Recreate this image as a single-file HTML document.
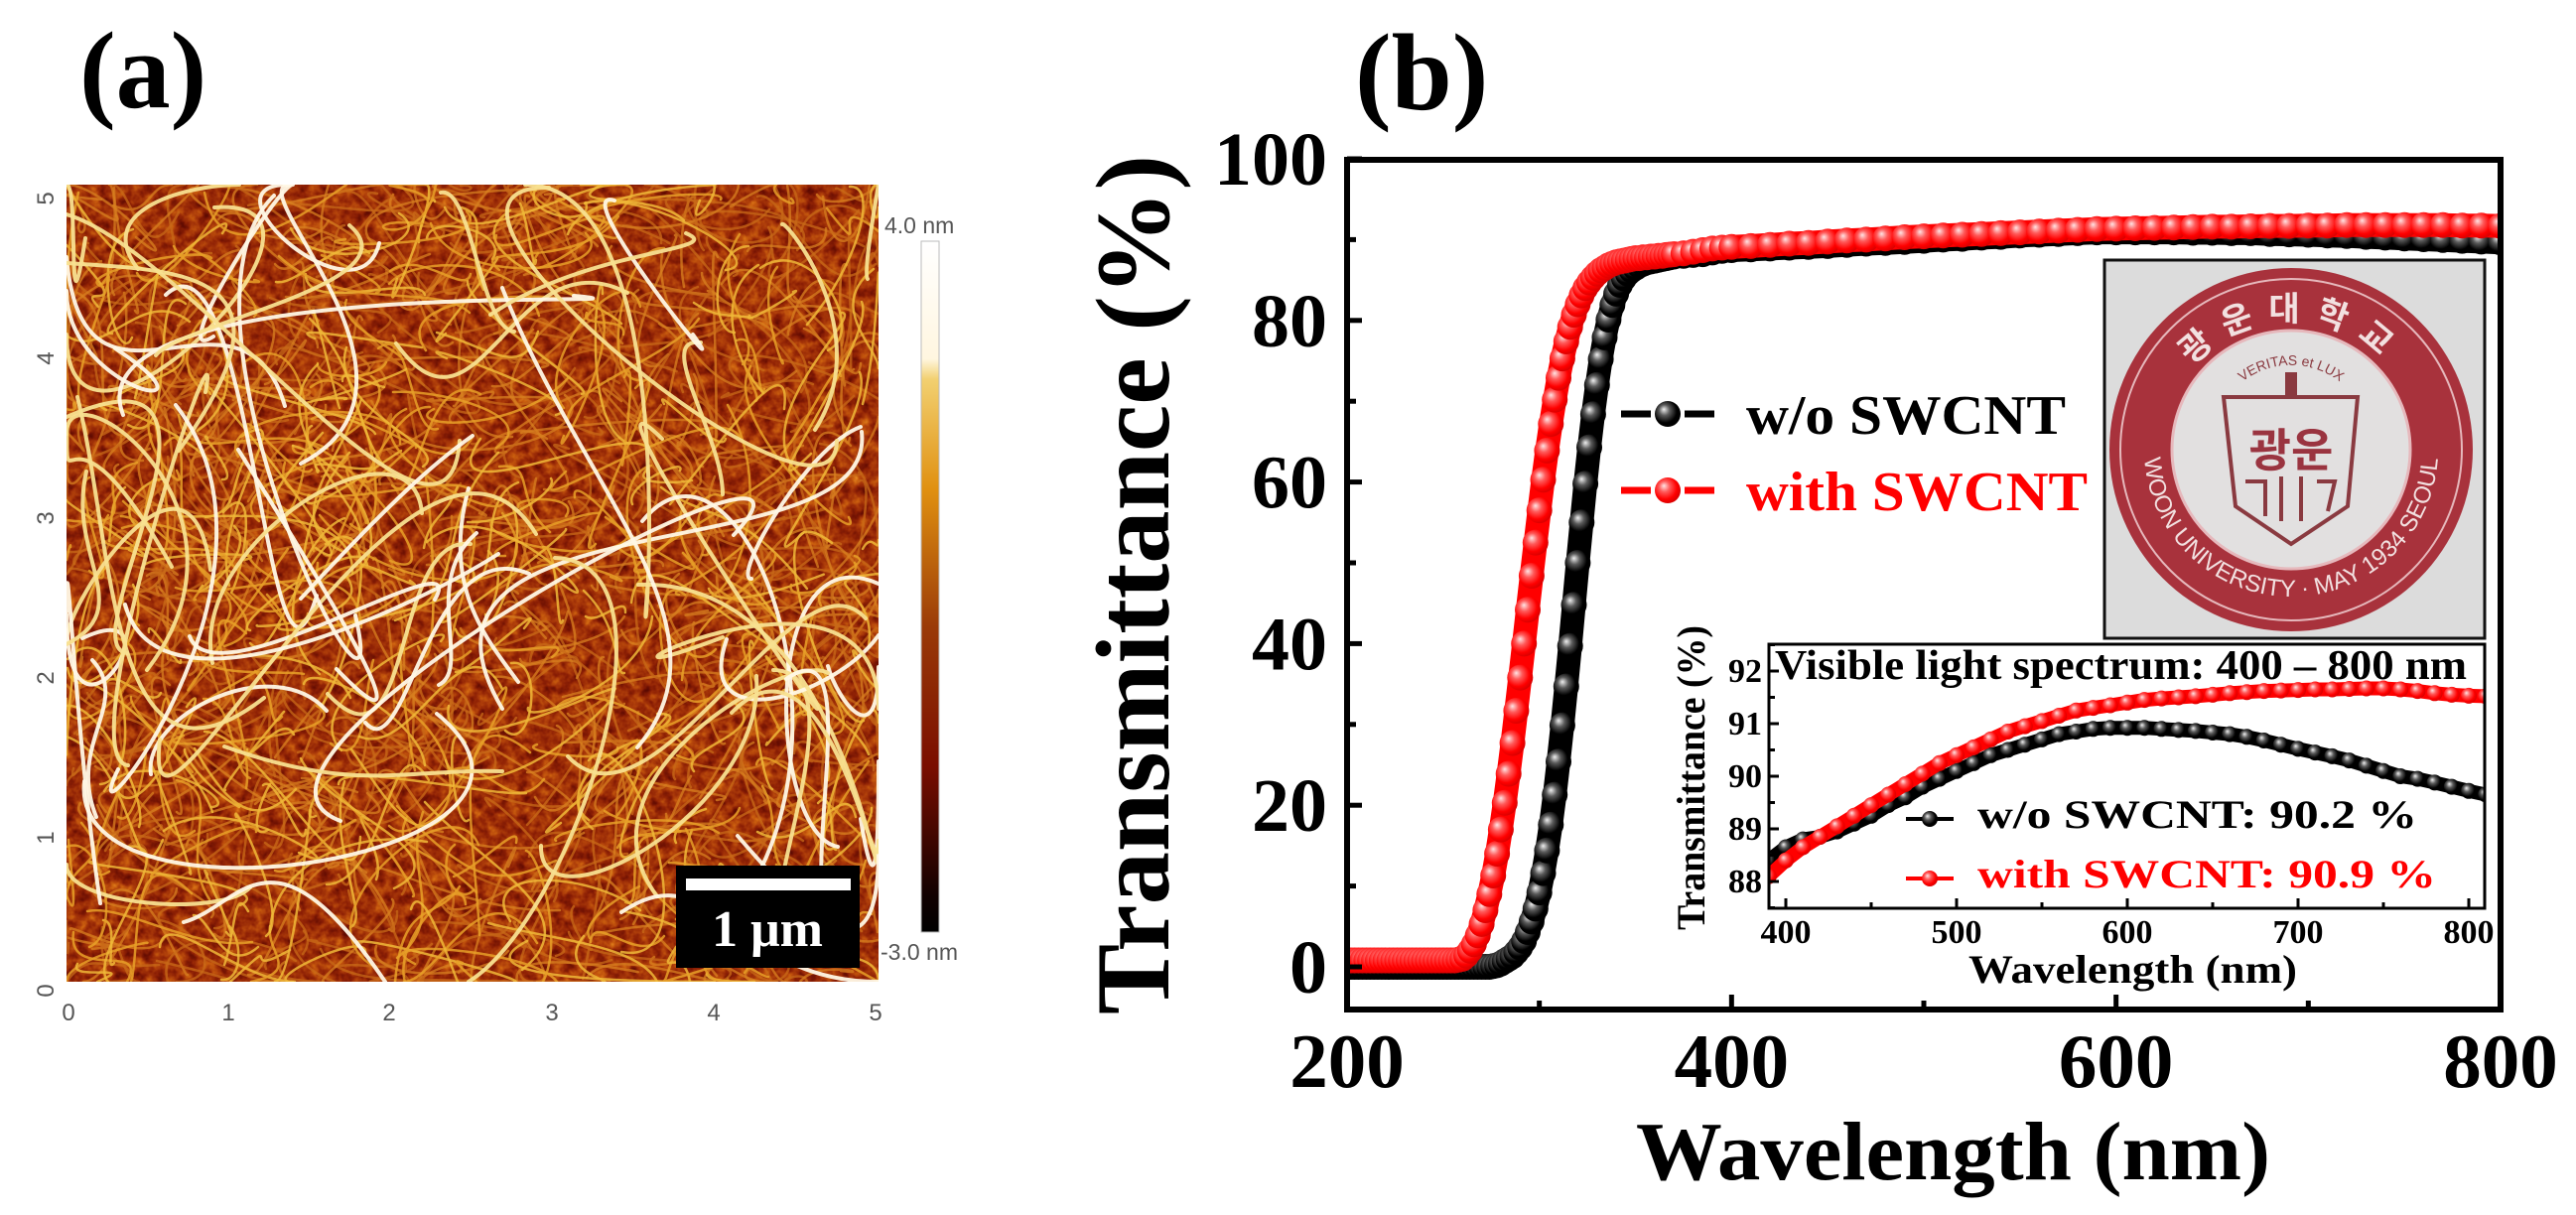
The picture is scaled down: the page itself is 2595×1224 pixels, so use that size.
<!DOCTYPE html>
<html><head><meta charset="utf-8">
<style>
html,body{margin:0;padding:0;background:#fff;width:2595px;height:1224px;overflow:hidden;}
svg{display:block;}
.tm{font-family:"Liberation Serif",serif;font-weight:bold;}
.sn{font-family:"Liberation Sans",sans-serif;}
</style></head>
<body>
<svg id="fig" width="2595" height="1224" viewBox="0 0 2595 1224" xmlns="http://www.w3.org/2000/svg" overflow="hidden">
<defs>
  <radialGradient id="gb" cx="0.42" cy="0.42" r="0.6" fx="0.35" fy="0.32">
    <stop offset="0" stop-color="#f0f0f0"/><stop offset="0.35" stop-color="#5a5a5a"/><stop offset="0.75" stop-color="#000"/><stop offset="1" stop-color="#000"/>
  </radialGradient>
  <radialGradient id="gr" cx="0.42" cy="0.42" r="0.6" fx="0.35" fy="0.32">
    <stop offset="0" stop-color="#ffe4e4"/><stop offset="0.35" stop-color="#ff5a5a"/><stop offset="0.75" stop-color="#f00"/><stop offset="1" stop-color="#d80000"/>
  </radialGradient>
  <linearGradient id="cbar" x1="0" y1="0" x2="0" y2="1">
    <stop offset="0" stop-color="#ffffff"/><stop offset="0.17" stop-color="#fff6e0"/><stop offset="0.2" stop-color="#f2d070"/>
    <stop offset="0.36" stop-color="#e09010"/><stop offset="0.56" stop-color="#9a3a08"/><stop offset="0.76" stop-color="#7a0e00"/>
    <stop offset="0.95" stop-color="#100000"/><stop offset="1" stop-color="#000"/>
  </linearGradient>
  <filter id="noise" x="0" y="0" width="100%" height="100%" color-interpolation-filters="sRGB">
    <feTurbulence type="fractalNoise" baseFrequency="0.09" numOctaves="3" seed="7"/>
    <feColorMatrix type="matrix" values="1 0 0 0 0  1 0 0 0 0  1 0 0 0 0  0 0 0 0 1"/>
    <feComponentTransfer>
      <feFuncR type="table" tableValues="0.3 0.42 0.56 0.68 0.8 0.9"/>
      <feFuncG type="table" tableValues="0.02 0.06 0.13 0.24 0.38 0.55"/>
      <feFuncB type="table" tableValues="0 0.01 0.02 0.04 0.06 0.15"/>
    </feComponentTransfer>
  </filter>
  <clipPath id="afmclip"><rect x="67" y="186" width="818" height="803"/></clipPath>
  <clipPath id="mainclip"><rect x="1357" y="161" width="1162" height="856"/></clipPath>
  <clipPath id="insclip"><rect x="1782" y="649" width="721" height="266"/></clipPath>
  <path id="ringTop" d="M 2178 453 A 130 130 0 0 1 2438 453"/>
  <path id="ringBot" d="M 2160 453 A 148 148 0 0 0 2456 453"/>
  <path id="motto" d="M 2230 430 A 80 80 0 0 1 2386 430"/>
</defs>

<!-- Panel (a) -->
<text class="tm" x="80" y="108" font-size="110">(a)</text>
<g clip-path="url(#afmclip)">
  <rect x="67" y="186" width="818" height="803" fill="#8a2a08"/>
  <rect x="67" y="186" width="818" height="803" filter="url(#noise)"/>
  <g id="fibers"></g>
</g>
<g class="sn" font-size="24" fill="#555" text-anchor="middle">
  <text x="69" y="1028">0</text><text x="230" y="1028">1</text><text x="392" y="1028">2</text>
  <text x="556" y="1028">3</text><text x="719" y="1028">4</text><text x="882" y="1028">5</text>
</g>
<g class="sn" font-size="24" fill="#555" text-anchor="middle">
  <text transform="translate(54,998) rotate(-90)">0</text><text transform="translate(54,844) rotate(-90)">1</text>
  <text transform="translate(54,683) rotate(-90)">2</text><text transform="translate(54,522) rotate(-90)">3</text>
  <text transform="translate(54,361) rotate(-90)">4</text><text transform="translate(54,200) rotate(-90)">5</text>
</g>
<rect x="928" y="243" width="18" height="696" fill="url(#cbar)" stroke="#bbb" stroke-width="1"/>
<text class="sn" x="891" y="235" font-size="23" fill="#555">4.0 nm</text>
<text class="sn" x="887" y="967" font-size="23" fill="#555">-3.0 nm</text>
<g>
  <rect x="681" y="872" width="185" height="103" fill="#000"/>
  <rect x="691" y="885" width="166" height="12" fill="#fff"/>
  <text class="tm" x="773" y="953" font-size="52" fill="#fff" text-anchor="middle">1 μm</text>
</g>

<!-- Panel (b) -->
<text class="tm" x="1365" y="110" font-size="110">(b)</text>
<g id="mainmarks" clip-path="url(#mainclip)"></g>
<rect x="1357" y="161" width="1162" height="856" fill="none" stroke="#000" stroke-width="6"/>
<g id="mainaxes"></g>
<text class="tm" transform="translate(1177,1022) rotate(-90)" font-size="106" textLength="866" lengthAdjust="spacingAndGlyphs">Transmittance (%)</text>
<text class="tm" x="1648" y="1188" font-size="84" textLength="639" lengthAdjust="spacingAndGlyphs">Wavelength (nm)</text>

<g>
  <g>
    <line x1="1633" y1="417" x2="1727" y2="417" stroke="#000" stroke-width="7" stroke-dasharray="30 10 0 24 30"/>
    <circle cx="1680" cy="417" r="13" fill="url(#gb)"/>
    <text class="tm" x="1759" y="437" font-size="56" textLength="322" lengthAdjust="spacingAndGlyphs">w/o SWCNT</text>
  </g>
  <g>
    <line x1="1633" y1="494" x2="1727" y2="494" stroke="#f00" stroke-width="7" stroke-dasharray="30 10 0 24 30"/>
    <circle cx="1680" cy="494" r="13" fill="url(#gr)"/>
    <text class="tm" x="1759" y="514" font-size="56" fill="#f00" textLength="344" lengthAdjust="spacingAndGlyphs">with SWCNT</text>
  </g>
</g>

<!-- University logo photo -->
<g>
  <rect x="2120" y="262" width="383" height="381" fill="#dcdcdc" stroke="#111" stroke-width="3"/>
  <circle cx="2308" cy="453" r="183" fill="#a8323c"/>
  <circle cx="2308" cy="453" r="172" fill="none" stroke="#e6b8bc" stroke-width="2"/>
  <circle cx="2308" cy="453" r="120" fill="#e2e0e0" stroke="#e6b8bc" stroke-width="3"/>
  <text font-family="'Noto Sans CJK KR',sans-serif" font-size="34" font-weight="bold" fill="#f2e0e0" letter-spacing="14"><textPath href="#ringTop" startOffset="50%" text-anchor="middle">광운대학교</textPath></text>
  <text class="sn" font-size="24" fill="#f2e0e0"><textPath href="#ringBot" startOffset="50%" text-anchor="middle">KWANGWOON UNIVERSITY · MAY 1934 SEOUL KOREA</textPath></text>
  <text class="sn" font-size="14" fill="#8a3a40"><textPath href="#motto" startOffset="50%" text-anchor="middle">VERITAS et LUX</textPath></text>
  <path d="M2240 400 L2375 400 L2365 510 L2308 548 L2252 510 Z" fill="none" stroke="#8a3a40" stroke-width="4"/>
  <rect x="2302" y="375" width="12" height="25" fill="#8a3a40"/>
  <text x="2308" y="470" font-family="'Noto Sans CJK KR',sans-serif" font-size="46" font-weight="bold" fill="#9a3440" text-anchor="middle">광운</text>
  <path d="M2262 485 L2282 485 L2282 520 M2298 480 L2298 525 M2318 480 L2318 525 M2334 485 L2352 485 L2345 515" fill="none" stroke="#8a3a40" stroke-width="4"/>
</g>

<!-- Inset -->
<rect x="1782" y="649" width="721" height="266" fill="#fff"/>
<g id="insetmarks" clip-path="url(#insclip)"></g>
<rect x="1782" y="649" width="721" height="266" fill="none" stroke="#000" stroke-width="3"/>
<g id="insetaxes"></g>
<text class="tm" x="1788" y="684" font-size="42" textLength="697" lengthAdjust="spacingAndGlyphs">Visible light spectrum: 400 – 800 nm</text>
<text class="tm" transform="translate(1717,937) rotate(-90)" font-size="40" textLength="307" lengthAdjust="spacingAndGlyphs">Transmittance (%)</text>
<text class="tm" x="1983" y="990" font-size="40" textLength="331" lengthAdjust="spacingAndGlyphs">Wavelength (nm)</text>
<g>
  <g>
    <line x1="1920" y1="825" x2="1968" y2="825" stroke="#000" stroke-width="4"/>
    <circle cx="1944" cy="825" r="8" fill="url(#gb)"/>
    <text class="tm" x="1992" y="834" font-size="40" textLength="443" lengthAdjust="spacingAndGlyphs">w/o SWCNT: 90.2 %</text>
  </g>
  <g>
    <line x1="1920" y1="885" x2="1968" y2="885" stroke="#f00" stroke-width="4"/>
    <circle cx="1944" cy="885" r="8" fill="url(#gr)"/>
    <text class="tm" x="1992" y="894" font-size="40" fill="#f00" textLength="462" lengthAdjust="spacingAndGlyphs">with SWCNT: 90.9 %</text>
  </g>
</g>
</svg>

<script>
// ---------- main chart data ----------
const mainWl = [200,202,204,206,208,210,212,214,216,218,220,222,224,226,228,230,232,234,236,238,240,242,244,246,248,250,252,254,256,258,
260,262,264,266,268,270,272,274,276,278,280,282,284,286,288,290,292,294,296,298,300,302,304,306,308,310,312,314,316,318,
320,322,324,326,328,330,332,334,336,338,340,342,344,346,348,350,352,354,356,358,360,362,364,366,368,370,
375,380,385,390,395,400,410,420,430,440,450,460,470,480,490,500,510,520,530,540,550,560,570,580,590,600,
610,620,630,640,650,660,670,680,690,700,710,720,730,740,750,760,770,780,790,800];
const mainBlack = [0.0,0.0,0.0,0.0,0.0,0.0,0.0,0.0,0.0,0.0,0.0,0.0,0.0,0.0,0.0,0.0,0.0,0.0,0.0,0.0,0.0,0.0,0.0,0.0,0.0,0.0,0.0,0.0,0.0,0.0,
0.0,0.0,0.0,0.0,0.0,0.0,0.0,0.0,0.1,0.2,0.4,0.7,1.0,1.3,1.8,2.4,3.2,4.3,5.6,7.2,9.2,11.6,14.4,17.6,21.3,25.4,29.9,34.7,39.7,
44.8,50.0,55.0,59.8,64.3,68.4,72.0,75.2,77.9,80.1,81.9,83.3,84.4,85.2,85.8,86.2,86.5,86.8,87.0,87.2,87.3,87.4,87.5,87.6,87.7,87.8,87.9,88.0,
88.1,88.2,88.4,88.6,88.7,88.8,88.9,89.0,89.1,89.2,89.35,89.5,89.6,89.7,89.85,90.0,90.1,90.25,90.35,90.5,90.6,90.7,90.8,90.9,90.9,90.9,
90.9,90.9,90.85,90.85,90.8,90.8,90.7,90.65,90.6,90.5,90.45,90.35,90.25,90.15,90.05,89.95,89.85,89.75,89.65,89.55];
const mainRed = [0.8,0.8,0.8,0.8,0.8,0.8,0.8,0.8,0.8,0.8,0.8,0.8,0.8,0.8,0.8,0.8,0.8,0.8,0.8,0.8,0.8,0.8,0.8,0.8,0.8,0.8,0.8,0.8,
0.8,0.9,1.0,1.4,2.0,2.8,3.9,5.3,7.0,9.0,11.3,14.0,17.0,20.3,23.9,27.7,31.7,35.8,40.0,44.2,48.4,52.5,56.5,60.3,63.9,67.2,70.2,72.9,75.3,77.4,
79.2,80.7,82.0,83.1,84.0,84.7,85.3,85.8,86.2,86.5,86.8,87.0,87.2,87.3,87.4,87.5,87.6,87.7,87.7,87.8,87.8,87.9,87.9,88.0,88.0,88.1,88.15,88.2,
88.3,88.5,88.7,88.9,89.0,89.1,89.2,89.35,89.5,89.6,89.75,89.9,90.0,90.15,90.3,90.4,90.5,90.6,90.7,90.8,90.9,91.0,91.1,91.2,91.3,91.35,
91.4,91.45,91.5,91.55,91.6,91.6,91.65,91.7,91.7,91.75,91.75,91.8,91.8,91.8,91.8,91.8,91.8,91.75,91.75,91.7];
const mainXTicks = [200,400,600,800];
const mainXMinor = [300,500,700];
const mainYTicks = [0,20,40,60,80,100];
const mainYMinor = [10,30,50,70,90];

// ---------- inset data ----------
const insWl = [390,400,410,420,430,440,450,460,470,480,490,500,510,520,530,540,550,560,570,580,590,600,610,620,630,640,650,660,670,680,690,700,710,720,730,740,750,760,770,780,790,800,810];
const insBlack = [88.4,88.65,88.8,88.85,88.95,89.1,89.25,89.45,89.6,89.8,89.95,90.1,90.25,90.4,90.5,90.6,90.7,90.8,90.85,90.9,90.92,90.92,90.92,90.9,90.88,90.86,90.83,90.8,90.75,90.68,90.6,90.52,90.45,90.38,90.3,90.2,90.1,90.0,89.95,89.88,89.8,89.72,89.65];
const insRed = [88.1,88.4,88.65,88.85,89.05,89.25,89.45,89.65,89.85,90.05,90.25,90.4,90.55,90.7,90.85,90.95,91.05,91.15,91.25,91.3,91.35,91.4,91.45,91.48,91.5,91.52,91.55,91.58,91.6,91.62,91.63,91.64,91.65,91.65,91.66,91.67,91.67,91.65,91.62,91.58,91.55,91.53,91.52];
const insXTicks = [400,500,600,700,800];
const insXMinor = [450,550,650,750];
const insYTicks = [88,89,90,91,92];
const insYMinor = [87.5,88.5,89.5,90.5,91.5,92.5];

const NS = 'http://www.w3.org/2000/svg';
function mk(tag, attrs, parent){ const e=document.createElementNS(NS,tag); for(const k in attrs) e.setAttribute(k,attrs[k]); parent.appendChild(e); return e; }

const X = w => 1357 + (w-200)*1162/600;
const Y = v => 974 - v*8.14;
const XI = w => 1799 + (w-400)*1.72;
const YI = v => 676 - (v-92)*53;

const mm = document.getElementById('mainmarks');
function series(parent, wl, vals, fx, fy, color, grad, r, name){
  const g = mk('g', {}, parent);
  
  
  const n = Math.min(wl.length, vals.length);
  let d = '';
  for(let i=0;i<n;i++) d += (i?'L':'M') + fx(wl[i]).toFixed(1) + ' ' + fy(vals[i]).toFixed(1);
  const p = mk('path', {d:d, fill:'none', stroke:color, 'stroke-width':r*2-2, 'stroke-linejoin':'round', 'stroke-linecap':'round'}, g);
  
  
  for(let i=0;i<n;i++){
    const c = mk('circle', {cx:fx(wl[i]).toFixed(1), cy:fy(vals[i]).toFixed(1), r:r, fill:'url(#'+grad+')'}, g);
    
    
  }
}
series(mm, mainWl, mainBlack, X, Y, '#000', 'gb', 13, 'series-wo-swcnt');
series(mm, mainWl, mainRed, X, Y, '#f00', 'gr', 13, 'series-with-swcnt');

const im = document.getElementById('insetmarks');
series(im, insWl, insBlack, XI, YI, '#000', 'gb', 8, 'inset-series-wo-swcnt');
series(im, insWl, insRed, XI, YI, '#f00', 'gr', 8, 'inset-series-with-swcnt');

const ma = document.getElementById('mainaxes');


mainYTicks.forEach(v=>{
  mk('line',{x1:1357,y1:Y(v),x2:1372,y2:Y(v),stroke:'#000','stroke-width':5},ma);
  const t = mk('text',{x:1337,y:Y(v)+26,'font-size':76,'text-anchor':'end',class:'tm'},ma);
  
  
  t.textContent = v;
});
mainYMinor.forEach(v=>{ mk('line',{x1:1357,y1:Y(v),x2:1366,y2:Y(v),stroke:'#000','stroke-width':5},ma); });
mainXTicks.forEach(w=>{
  mk('line',{x1:X(w),y1:1017,x2:X(w),y2:1002,stroke:'#000','stroke-width':5},ma);
  const t = mk('text',{x:X(w),y:1095,'font-size':77,'text-anchor':'middle',class:'tm'},ma);
  
  
  t.textContent = w;
});
mainXMinor.forEach(w=>{ mk('line',{x1:X(w),y1:1017,x2:X(w),y2:1008,stroke:'#000','stroke-width':5},ma); });

const ia = document.getElementById('insetaxes');


insYTicks.forEach(v=>{
  mk('line',{x1:1782,y1:YI(v),x2:1792,y2:YI(v),stroke:'#000','stroke-width':3},ia);
  const t = mk('text',{x:1775,y:YI(v)+11,'font-size':34,'text-anchor':'end',class:'tm'},ia);
  
  
  t.textContent = v;
});
insYMinor.forEach(v=>{ mk('line',{x1:1782,y1:YI(v),x2:1788,y2:YI(v),stroke:'#000','stroke-width':3},ia); });
insXTicks.forEach(w=>{
  mk('line',{x1:XI(w),y1:915,x2:XI(w),y2:905,stroke:'#000','stroke-width':3},ia);
  const t = mk('text',{x:XI(w),y:950,'font-size':34,'text-anchor':'middle',class:'tm'},ia);
  
  
  t.textContent = w;
});
insXMinor.forEach(w=>{ mk('line',{x1:XI(w),y1:915,x2:XI(w),y2:909,stroke:'#000','stroke-width':3},ia); });

// AFM fibers (decorative texture), kept inside the image rectangle
let seed = 12345;
function rnd(){ seed = (seed*1103515245 + 12345) % 2147483648; return seed/2147483648; }
const cx = v => Math.max(67, Math.min(885, v));
const cy = v => Math.max(186, Math.min(989, v));
const fb = document.getElementById('fibers');
function fiber(kind){
  const x0=cx(67+rnd()*818), y0=cy(186+rnd()*803);
  const a=rnd()*Math.PI*2;
  const L = kind===2 ? 150+rnd()*350 : 40+rnd()*160;
  const x3=cx(x0+Math.cos(a)*L), y3=cy(y0+Math.sin(a)*L);
  const x1=cx(x0+(rnd()-0.5)*L), y1=cy(y0+(rnd()-0.5)*L);
  const x2=cx(x3+(rnd()-0.5)*L), y2=cy(y3+(rnd()-0.5)*L);
  let stroke, w, op;
  if(kind===2){ stroke = rnd()<0.6?'#fff8e6':'#f8e090'; w=4; op=0.95; }
  else if(kind===1){ stroke = rnd()<0.5?'#f0b838':'#e8a028'; w=2.5; op=0.85; }
  else { stroke = rnd()<0.5?'#d88020':'#c86a18'; w=2.5; op=0.75; }
  const p = mk('path',{d:`M${x0.toFixed(0)} ${y0.toFixed(0)} C${x1.toFixed(0)} ${y1.toFixed(0)} ${x2.toFixed(0)} ${y2.toFixed(0)} ${x3.toFixed(0)} ${y3.toFixed(0)}`,
    fill:'none', stroke:stroke, 'stroke-width':w, opacity:op, 'stroke-linecap':'round'}, fb);
  
  
}
for(let i=0;i<600;i++) fiber(0);
for(let i=0;i<350;i++) fiber(1);
for(let i=0;i<70;i++) fiber(2);
</script>
</body></html>
